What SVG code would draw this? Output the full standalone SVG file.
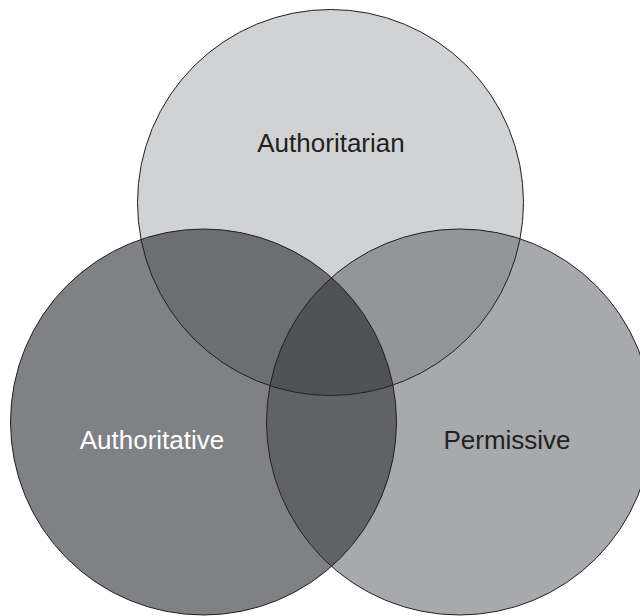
<svg xmlns="http://www.w3.org/2000/svg" width="640" height="616" viewBox="0 0 640 616">
<style>
.lbl{font-family:"Liberation Sans",Arial,sans-serif;font-size:26px;text-anchor:middle}
.ring{fill:none;stroke:#231f20;stroke-width:1}
</style>
<defs>
<clipPath id="cT"><circle cx="330.5" cy="202.5" r="193"/></clipPath>
<clipPath id="cL"><circle cx="203.5" cy="422" r="193"/></clipPath>
<clipPath id="cR"><circle cx="459.5" cy="422" r="193"/></clipPath>
</defs>
<rect width="640" height="616" fill="#ffffff"/>
<g id="authoritarian">
<circle cx="330.5" cy="202.5" r="193" fill="#d1d2d4"/>
</g>
<g id="authoritative">
<circle cx="203.5" cy="422" r="193" fill="#808184"/>
</g>
<g id="permissive">
<circle cx="459.5" cy="422" r="193" fill="#a7a9ac"/>
</g>
<g id="overlaps">
<g clip-path="url(#cT)"><circle cx="203.5" cy="422" r="193" fill="#6d6e71"/></g>
<g clip-path="url(#cT)"><circle cx="459.5" cy="422" r="193" fill="#939598"/></g>
<g clip-path="url(#cL)"><circle cx="459.5" cy="422" r="193" fill="#616265"/></g>
<g clip-path="url(#cL)"><g clip-path="url(#cR)"><circle cx="330.5" cy="202.5" r="193" fill="#515254"/></g></g>
</g>
<g id="outlines">
<circle class="ring" cx="330.5" cy="202.5" r="193"/>
<circle class="ring" cx="203.5" cy="422" r="193"/>
<circle class="ring" cx="459.5" cy="422" r="193"/>
</g>
<g id="labels">
<text class="lbl" x="331" y="152" fill="#231f20">Authoritarian</text>
<text class="lbl" x="152" y="449" fill="#ffffff">Authoritative</text>
<text class="lbl" x="507" y="449" fill="#231f20">Permissive</text>
</g>
</svg>
